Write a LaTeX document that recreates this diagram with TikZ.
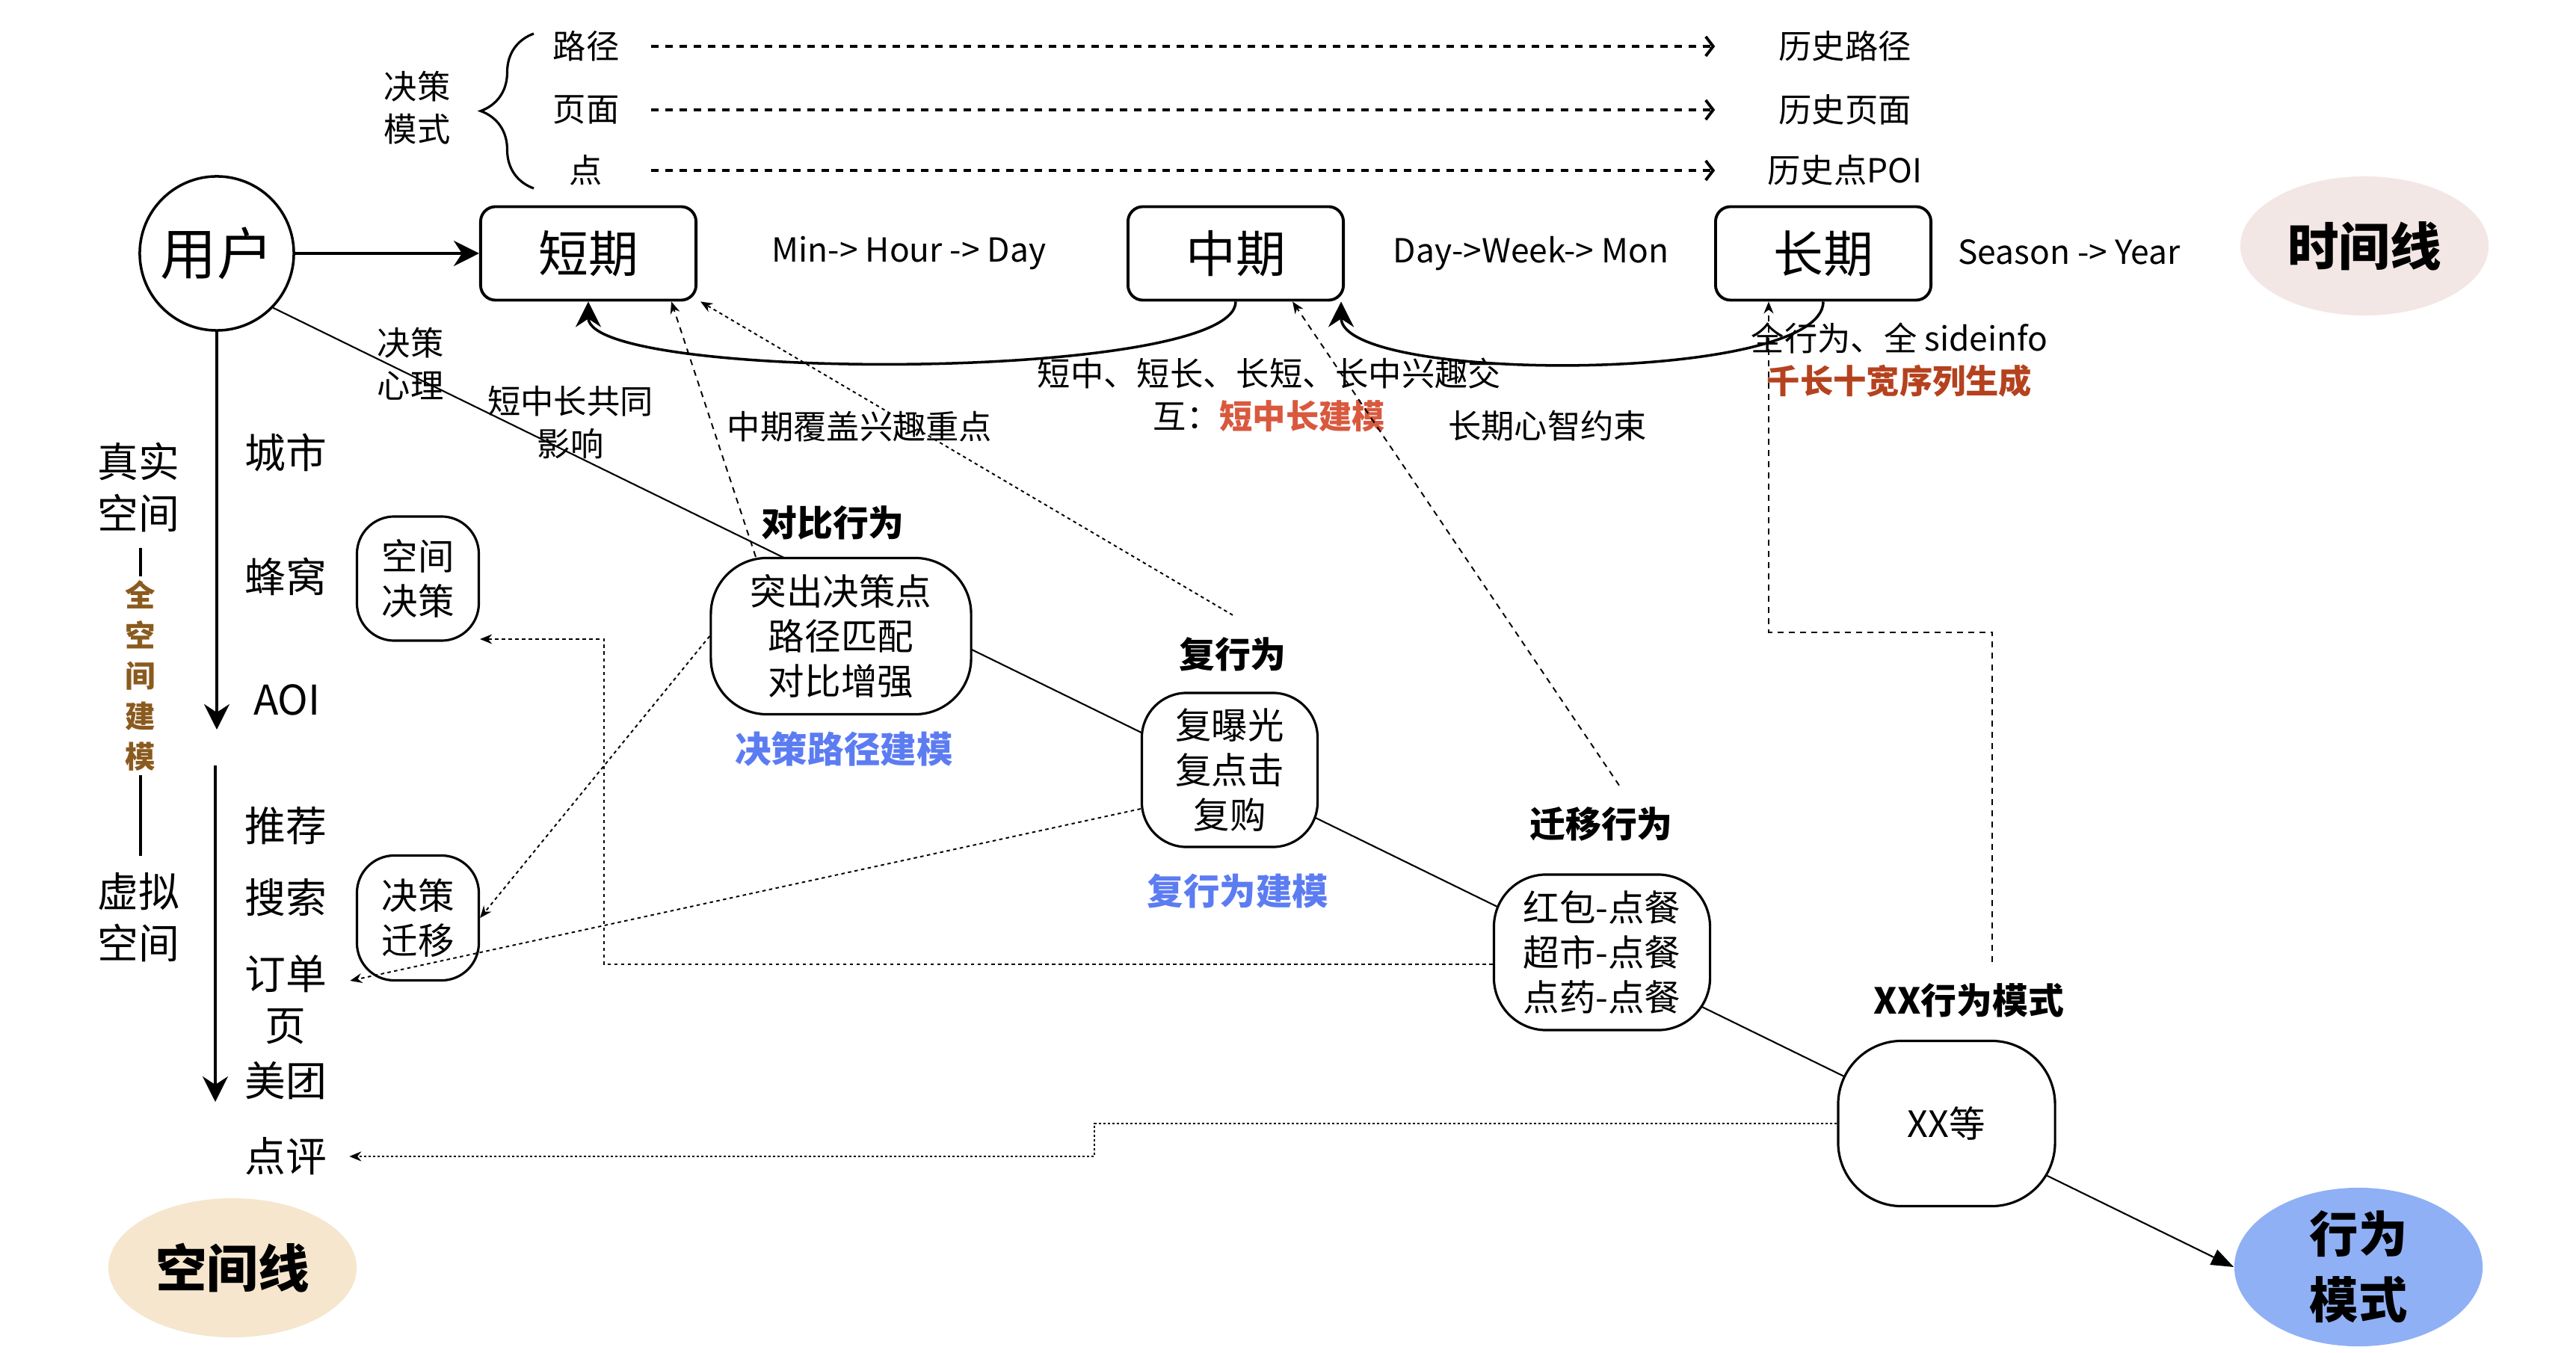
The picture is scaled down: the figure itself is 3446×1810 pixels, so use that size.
\documentclass[tikz,border=0pt]{standalone}
\usepackage{fontspec}
\setmainfont{Noto Sans CJK SC}
\usepackage{tikz}
\usetikzlibrary{arrows.meta, shapes.geometric, decorations.pathreplacing, backgrounds}

\definecolor{timefill}{RGB}{242,231,228}
\definecolor{spacefill}{RGB}{245,230,205}
\definecolor{behavfill}{RGB}{143,176,245}
\definecolor{modelblue}{RGB}{92,124,242}
\definecolor{modelred}{RGB}{217,89,62}
\definecolor{seqred}{RGB}{181,66,30}
\definecolor{spacebrown}{RGB}{139,90,30}

\begin{document}
\begin{tikzpicture}[x=0.01cm, y=-0.01cm,
    period/.style={draw, rounded corners=0.2cm, line width=1.1pt, minimum width=2.88cm, minimum height=1.25cm, font=\fontsize{19}{23}\selectfont},
    bubble/.style={draw, fill=white, line width=0.9pt, align=center, inner sep=0pt, font=\fontsize{13.8}{17}\selectfont},
    lbl/.style={align=center, font=\fontsize{12.6}{16.2}\selectfont},
    hint/.style={lbl, inner sep=0pt},
    side/.style={align=center, font=\fontsize{15.6}{19.6}\selectfont},
    head/.style={font=\bfseries\fontsize{13.6}{17}\selectfont},
    model/.style={text=modelblue, font=\bfseries\fontsize{13.8}{17}\selectfont},
    tag/.style={ellipse, inner sep=0pt, minimum width=3.32cm, minimum height=1.86cm, align=center, font=\bfseries\fontsize{19.5}{25}\selectfont},
    thickarrow/.style={line width=1pt, -{Stealth[length=0.34cm, width=0.34cm]}},
    history/.style={line width=1.1pt, dash pattern=on 0.1cm off 0.09cm, -{Straight Barb[length=0.1cm, width=0.26cm]}},
    thindash/.style={line width=0.55pt, dash pattern=on 0.08cm off 0.07cm, -{Stealth[length=0.16cm, width=0.13cm]}},
    thindot/.style={line width=0.55pt, dash pattern=on 0.045cm off 0.045cm, -{Stealth[length=0.16cm, width=0.13cm]}}]
    \useasboundingbox (0, 0) rectangle (3446, 1810);

    % decision modes
    \draw (558, 144) node[lbl] (mode) {决策\\模式};
    \draw[line width=0.9pt, decorate, decoration={brace, amplitude=0.71cm}] (714, 252) -- (714, 45);
    \draw (784, 62) node[hint, minimum width=1.72cm] (lpath) {路径};
    \draw (784, 147) node[hint, minimum width=1.72cm] (lpage) {页面};
    \draw (784, 228) node[hint, minimum width=1.72cm] (lpoint) {点};
    \draw (2468, 62) node[hint, minimum width=3.46cm] (hpath) {历史路径};
    \draw (2468, 147) node[hint, minimum width=3.46cm] (hpage) {历史页面};
    \draw (2468, 228) node[hint, minimum width=3.46cm] (hpoint) {历史点POI};
    \draw[history] (lpath) -- (hpath);
    \draw[history] (lpage) -- (hpage);
    \draw[history] (lpoint) -- (hpoint);

    % time line
    \draw (290, 339) node[circle, draw, line width=1pt, minimum size=2.06cm, inner sep=0pt, font=\fontsize{21.4}{25}\selectfont] (user) {用户};
    \draw (787, 339) node[period] (short) {短期};
    \draw (1653, 339) node[period] (mid) {中期};
    \draw (2439, 339) node[period] (long) {长期};
    \draw (1216, 339) node[lbl] (shortspan) {Min-> Hour -> Day};
    \draw (2048, 339) node[lbl] (midspan) {Day->Week-> Mon};
    \draw (2768, 337) node[lbl] (longspan) {Season -> Year};
    \draw (3163, 329) node[tag, fill=timefill] (timeline) {时间线};
    \draw[thickarrow] (user) -- (short);
    \draw[thickarrow] (mid.south) .. controls +(0, 108) and +(0, 108) .. (short.south);
    \draw[thickarrow] (long.south) .. controls +(0, 110) and +(0, 110) .. ([xshift=-0.05cm]mid.south east);

    \draw (549, 487) node[lbl] (mind) {决策\\心理};
    \draw (763, 565) node[lbl] (joint) {短中长共同\\影响};
    \draw (1150, 571) node[lbl] (cover) {中期覆盖兴趣重点};
    \draw (1698, 528) node[lbl] (cross) {短中、短长、长短、长中兴趣交\\互：{\bfseries\color{modelred}短中长建模}};
    \draw (2070, 570) node[lbl] (bound) {长期心智约束};
    \draw (2541, 482) node[lbl] (allinfo) {全行为、全 sideinfo\\{\bfseries\color{seqred}千长十宽序列生成}};

    % space line
    \coordinate (realend) at (290, 976);
    \coordinate (virtop) at (288, 1024);
    \coordinate (virend) at (288, 1474);
    \draw[thickarrow] (user) -- (realend);
    \draw[thickarrow] (virtop) -- (virend);
    \draw (185, 652) node[side] (real) {真实\\空间};
    \draw (185, 1227) node[side] (virtual) {虚拟\\空间};
    \draw (188, 904) node[align=center, inner sep=0.05cm, text=spacebrown, font=\bfseries\fontsize{11.5}{15.4}\selectfont] (fullspace) {全\\空\\间\\建\\模};
    \coordinate (fulltop) at (188, 733);
    \coordinate (fullbot) at (188, 1145);
    \draw[line width=1pt] (fulltop) -- (fullspace.north);
    \draw[line width=1pt] (fullspace.south) -- (fullbot);
    \draw (382, 606) node[side] (city) {城市};
    \draw (382, 771) node[side] (hive) {蜂窝};
    \draw (384, 936) node[side] (aoi) {AOI};
    \draw (382, 1105) node[side] (rec) {推荐};
    \draw (382, 1201) node[side] (search) {搜索};
    \draw (382, 1337) node[side] (order) {订单\\页};
    \draw (382, 1446) node[side] (meituan) {美团};
    \draw (382, 1547) node[side] (dianping) {点评};
    \draw (311, 1696) node[tag, fill=spacefill] (spaceline) {空间线};
    \draw (559, 774) node[bubble, minimum width=1.63cm, minimum height=1.66cm, rounded corners=0.5cm] (sdec) {空间\\决策};
    \draw (559, 1228) node[bubble, minimum width=1.63cm, minimum height=1.67cm, rounded corners=0.5cm] (dtrans) {决策\\迁移};

    % behaviours
    \draw (1114, 699) node[head] (contrastlabel) {对比行为};
    \draw (1125, 851) node[bubble, minimum width=3.48cm, minimum height=2.09cm, rounded corners=0.75cm] (contrast) {突出决策点\\路径匹配\\对比增强};
    \draw (1129, 1002) node[model] (contrastmodel) {决策路径建模};
    \draw (1649, 875) node[head] (replabel) {复行为};
    \draw (1645, 1030) node[bubble, minimum width=2.35cm, minimum height=2.06cm, rounded corners=0.6cm] (rep) {复曝光\\复点击\\复购};
    \draw (1656, 1192) node[model] (repmodel) {复行为建模};
    \draw (2142, 1102) node[head] (translabel) {迁移行为};
    \draw (2143, 1274) node[bubble, minimum width=2.89cm, minimum height=2.08cm, rounded corners=0.7cm] (trans) {红包-点餐\\超市-点餐\\点药-点餐};
    \draw (2634, 1338) node[head] (xxlabel) {XX行为模式};
    \draw (2604, 1503) node[bubble, minimum width=2.90cm, minimum height=2.21cm, rounded corners=0.85cm] (xx) {XX等};
    \draw (3155, 1695) node[tag, fill=behavfill, font=\bfseries\fontsize{18.6}{25}\selectfont] (behavior) {行为\\模式};
    \begin{scope}[on background layer]
        \draw[line width=0.6pt, -{Triangle[length=0.3cm, width=0.22cm]}] (user.-44) -- (behavior.west);
    \end{scope}

    % links between the lines
    \draw[thindash] ([xshift=-1.14cm]contrast.north) -- ([xshift=1.11cm]short.south);
    \draw[thindot] ([yshift=0.17cm]replabel.north) -- ([xshift=1.5cm]short.south);
    \draw[thindash] ([xshift=0.24cm, yshift=0.16cm]translabel.north) -- ([xshift=0.76cm]mid.south);
    \draw[thindash] ([xshift=0.31cm, yshift=0.16cm]xxlabel.north) -- ++(0, -441) -| ([xshift=-0.73cm]long.south);
    \draw[thindot] (contrast.west) -- (dtrans.east);
    \coordinate (bendA) at (808, 855);
    \draw[thindot] ([yshift=-0.16cm]trans.west) -| (bendA) -- (sdec.south east |- bendA);
    \draw[thindot] ([yshift=-0.52cm]rep.west) -- ([xshift=0.19cm, yshift=0.25cm]order.east);
    \coordinate (bendB) at (1464, 1547);
    \draw[thindot, line width=0.7pt, dash pattern=on 0.03cm off 0.03cm] (xx.west) -| (bendB) -- ([xshift=0.18cm]dianping.east);
\end{tikzpicture}
\end{document}
